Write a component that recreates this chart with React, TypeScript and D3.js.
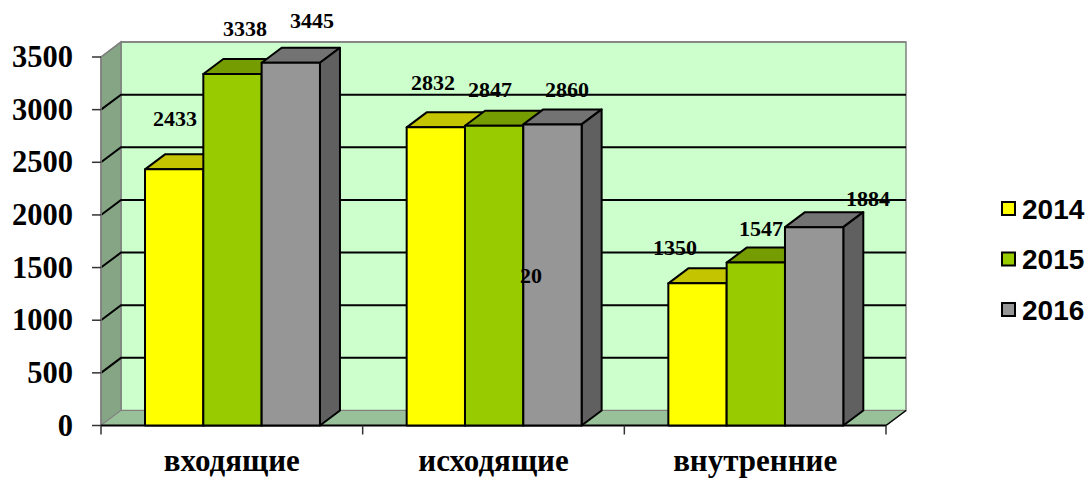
import React from "react";
import * as d3 from "d3";

const categories = ["входящие", "исходящие", "внутренние"];
const years = ["2014", "2015", "2016"];
const values2014 = [2433, 2832, 1350];
const values2015 = [3338, 2847, 1547];
const values2016 = [3445, 2860, 1884];
const seriesValues = [values2014, values2015, values2016];
const yTicks = [0, 500, 1000, 1500, 2000, 2500, 3000, 3500];

const frontColors = ["#ffff00", "#99cc00", "#969696"];
const topColors = ["#c4c400", "#759c00", "#737373"];
const sideColors = ["#a3a300", "#628200", "#606060"];

// Hand-placed value labels: centre position of each text, per series and category.
const labelX = [[175, 433, 675], [245, 490, 761], [312, 567, 868]];
const labelY = [[119, 83, 248], [29, 90, 229], [21, 90, 199]];

const DX = 20;
const DY = -15;
const LEFT = 101;
const RIGHT = 886;
const BASE = 425.5;
const TOP = 57;

const y = d3.scaleLinear().domain([0, 3500]).range([BASE, TOP]);
const xGroup = d3.scaleBand<string>().domain(categories).range([LEFT, RIGHT]).paddingInner(0).paddingOuter(0);
const groupPad = 44;
const xBar = d3.scaleBand<string>().domain(years).range([groupPad, xGroup.bandwidth() - 42.7]);

const poly = (pts: [number, number][]) => pts.map((p) => p.join(",")).join(" ");
const serif = "'Liberation Serif', 'Times New Roman', serif";
const sans = "'Liberation Sans', Arial, sans-serif";

export default function App() {
  const depth = (x: number, yy: number): [number, number] => [x + DX, yy + DY];
  return (
    <svg
      width={1089}
      height={479}
      viewBox="0 0 1089 479"
      style={{ position: "absolute", left: 0, top: 0, background: "#fff" }}
    >
      {/* back wall */}
      <rect x={LEFT + DX} y={TOP + DY} width={RIGHT - LEFT} height={BASE - TOP} fill="#ccffcc" stroke="#808080" strokeWidth={1.5} />
      {/* left wall */}
      <polygon
        points={poly([[LEFT, BASE], depth(LEFT, BASE), depth(LEFT, TOP), [LEFT, TOP]])}
        fill="#85a585"
        stroke="#808080"
        strokeWidth={1.5}
      />
      {/* floor */}
      <polygon
        points={poly([[LEFT, BASE], [RIGHT, BASE], depth(RIGHT, BASE), depth(LEFT, BASE)])}
        fill="#99c199"
        stroke="#808080"
        strokeWidth={1}
      />
      {/* gridlines on the walls */}
      {yTicks.slice(1).map((t) => (
        <polyline
          key={t}
          points={poly([[LEFT, y(t)], depth(LEFT, y(t)), depth(RIGHT, y(t))])}
          fill="none"
          stroke={t === 3500 ? "#808080" : "#000"}
          strokeWidth={t === 3500 ? 1.5 : 2}
        />
      ))}
      {/* value axis */}
      <line x1={LEFT} x2={LEFT} y1={TOP} y2={BASE} stroke="#808080" strokeWidth={1.5} />
      {yTicks.map((t) => (
        <g key={t}>
          <line x1={LEFT - 9} x2={LEFT} y1={y(t)} y2={y(t)} stroke="#333" strokeWidth={1.5} />
          <text
            x={73}
            y={y(t) + 10}
            textAnchor="end"
            fontFamily={serif}
            fontWeight="bold"
            fontSize={30.5}
            fill="#000"
          >
            {t}
          </text>
        </g>
      ))}
      {/* category axis */}
      <line x1={LEFT} x2={RIGHT} y1={BASE} y2={BASE} stroke="#000" strokeWidth={2} />
      {[...categories.map((c) => xGroup(c)!), RIGHT].map((x) => (
        <line key={x} x1={x} x2={x} y1={BASE} y2={BASE + 9} stroke="#333" strokeWidth={1.5} />
      ))}
      <line x1={RIGHT} y1={BASE} x2={RIGHT + DX} y2={BASE + DY} stroke="#000" strokeWidth={1.5} />
      {categories.map((c) => (
        <text
          key={c}
          x={xGroup(c)! + xGroup.bandwidth() / 2}
          y={471}
          textAnchor="middle"
          fontFamily={serif}
          fontWeight="bold"
          fontSize={31}
          fill="#000"
        >
          {c}
        </text>
      ))}
      {/* bars, back to front within each cluster */}
      {categories.map((c, ci) =>
        years.map((yr, si) => {
          const x0 = xGroup(c)! + xBar(yr)!;
          const x1 = x0 + xBar.bandwidth();
          const top = y(seriesValues[si][ci]);
          return (
            <g key={c + yr} stroke="#000" strokeWidth={2} strokeLinejoin="round">
              <polygon points={poly([[x0, top], [x1, top], depth(x1, top), depth(x0, top)])} fill={topColors[si]} />
              <polygon points={poly([[x1, BASE], depth(x1, BASE), depth(x1, top), [x1, top]])} fill={sideColors[si]} />
              <rect x={x0} y={top} width={x1 - x0} height={BASE - top} fill={frontColors[si]} />
            </g>
          );
        })
      )}
      {/* value labels */}
      {seriesValues.map((vals, si) =>
        vals.map((v, ci) => (
          <text
            key={`${si}-${ci}`}
            x={labelX[si][ci]}
            y={labelY[si][ci] + 7}
            textAnchor="middle"
            fontFamily={serif}
            fontWeight="bold"
            fontSize={22}
            fill="#000"
          >
            {v}
          </text>
        ))
      )}
      <text x={531} y={283} textAnchor="middle" fontFamily={serif} fontWeight="bold" fontSize={22} fill="#000">
        20
      </text>
      {/* legend */}
      {years.map((yr, i) => (
        <g key={yr}>
          <rect x={1002} y={202 + i * 50.5} width={13} height={13} fill={frontColors[i]} stroke="#000" strokeWidth={2} />
          <text x={1022} y={218.5 + i * 50.5} fontFamily={sans} fontWeight="bold" fontSize={28} fill="#000">
            {yr}
          </text>
        </g>
      ))}
    </svg>
  );
}
